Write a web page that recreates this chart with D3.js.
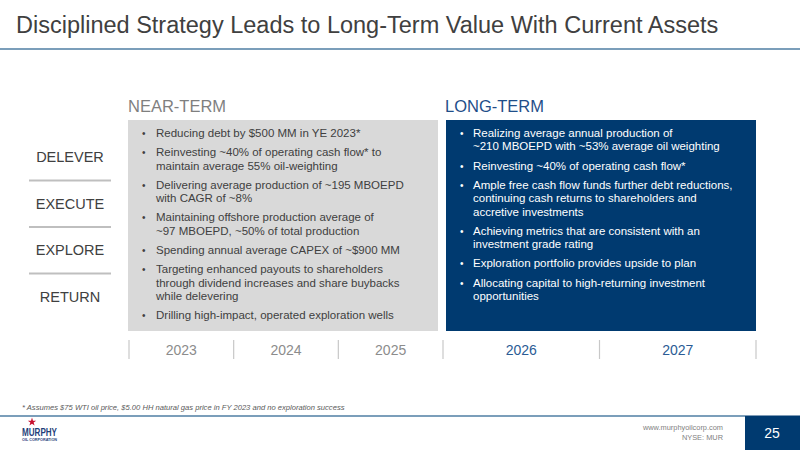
<!DOCTYPE html>
<html><head><meta charset="utf-8">
<script src="https://cdn.jsdelivr.net/npm/d3@7"></script>
<style>html,body{margin:0;padding:0;background:#fff;}svg{display:block;font-family:"Liberation Sans",Arial,sans-serif;}</style>
</head><body>
<script>
const title = "Disciplined Strategy Leads to Long-Term Value With Current Assets";
const pillars = ["DELEVER", "EXECUTE", "EXPLORE", "RETURN"];
const nearYears = ["2023", "2024", "2025"];
const longYears = ["2026", "2027"];
const phaseLabels = ["NEAR-TERM", "LONG-TERM"];
const nearBullets = [
  ["Reducing debt by $500 MM in YE 2023*"],
  ["Reinvesting ~40% of operating cash flow* to", "maintain average 55% oil-weighting"],
  ["Delivering average production of ~195 MBOEPD", "with CAGR of ~8%"],
  ["Maintaining offshore production average of", "~97 MBOEPD, ~50% of total production"],
  ["Spending annual average CAPEX of ~$900 MM"],
  ["Targeting enhanced payouts to shareholders", "through dividend increases and share buybacks", "while delevering"],
  ["Drilling high-impact, operated exploration wells"]
];
const longBullets = [
  ["Realizing average annual production of", "~210 MBOEPD with ~53% average oil weighting"],
  ["Reinvesting ~40% of operating cash flow*"],
  ["Ample free cash flow funds further debt reductions,", "continuing cash returns to shareholders and", "accretive investments"],
  ["Achieving metrics that are consistent with an", "investment grade rating"],
  ["Exploration portfolio provides upside to plan"],
  ["Allocating capital to high-returning investment", "opportunities"]
];
const footnote = "* Assumes $75 WTI oil price, $5.00 HH natural gas price in FY 2023 and no exploration success";
const footerLines = ["www.murphyoilcorp.com", "NYSE: MUR"];
const pageNumber = "25";

const W = 800, H = 450;
const navy = "#003a70", steel = "#4f7ea3", darkText = "#404040";
const svg = d3.select("body").append("svg").attr("width", W).attr("height", H);

// Title
svg.append("text").attr("x", 16).attr("y", 33).attr("font-size", 23.5).attr("fill", darkText).text(title);
svg.append("line").attr("x1", 0).attr("x2", W).attr("y1", 49).attr("y2", 49).attr("stroke", steel).attr("stroke-width", 1.5);

// Scales
const xNear = d3.scaleBand().domain(nearYears).range([129, 443]);
const xLong = d3.scaleBand().domain(longYears).range([443, 756]);
const yPillar = d3.scaleBand().domain(pillars).range([134, 320]);

// Phase headers
svg.append("text").attr("x", 128).attr("y", 112).attr("font-size", 16.5).attr("fill", "#7f7f7f").text(phaseLabels[0]);
svg.append("text").attr("x", 445).attr("y", 112).attr("font-size", 16.5).attr("fill", "#1f4e89").text(phaseLabels[1]);

// Boxes
svg.append("rect").attr("x", 128).attr("y", 120).attr("width", 310).attr("height", 211).attr("fill", "#d9d9d9");
svg.append("rect").attr("x", 446).attr("y", 120).attr("width", 310).attr("height", 211).attr("fill", navy);

// Pillars
const pg = svg.append("g");
pg.selectAll("text").data(pillars).join("text")
  .attr("x", 70).attr("y", d => yPillar(d) + yPillar.bandwidth()/2 + 5)
  .attr("text-anchor", "middle").attr("font-size", 14.5).attr("fill", darkText).text(d => d);
pg.selectAll("line").data(pillars.slice(1)).join("line")
  .attr("x1", 29).attr("x2", 111).attr("y1", d => yPillar(d)).attr("y2", d => yPillar(d))
  .attr("stroke", "#bfbfbf").attr("stroke-width", 2);

// Bullets
function drawBullets(items, bx, tx, y0, color) {
  const lineH = 13.4, gap = 5.8;
  let y = y0;
  const g = svg.append("g").attr("font-size", 11.5).attr("fill", color);
  items.forEach(lines => {
    g.append("text").attr("x", bx).attr("y", y).text("•").attr("font-size", 10);
    lines.forEach((ln, i) => {
      g.append("text").attr("x", tx).attr("y", y + i * lineH).text(ln);
    });
    y += lines.length * lineH + gap;
  });
}
drawBullets(nearBullets, 142, 156, 137, darkText);
drawBullets(longBullets, 460, 473, 137, "#ffffff");

// Year axis
const yr = svg.append("g");
const tickXs = nearYears.map(d => xNear(d)).concat(longYears.map(d => xLong(d)), [756]);
yr.selectAll("line").data(tickXs).join("line")
  .attr("x1", d => d).attr("x2", d => d).attr("y1", 340).attr("y2", 359)
  .attr("stroke", "#c8c8c8").attr("stroke-width", 1.2);
yr.selectAll("text.n").data(nearYears).join("text").attr("class", "n")
  .attr("x", d => xNear(d) + xNear.bandwidth()/2).attr("y", 355).attr("text-anchor", "middle")
  .attr("font-size", 14).attr("fill", "#8c8c8c").text(d => d);
yr.selectAll("text.l").data(longYears).join("text").attr("class", "l")
  .attr("x", d => xLong(d) + xLong.bandwidth()/2).attr("y", 355).attr("text-anchor", "middle")
  .attr("font-size", 14).attr("fill", "#2b5c95").text(d => d);

// Footnote
svg.append("text").attr("x", 22).attr("y", 410).attr("font-size", 7.6).attr("font-style", "italic").attr("fill", "#595959").text(footnote);

// Footer
svg.append("line").attr("x1", 0).attr("x2", 745).attr("y1", 416).attr("y2", 416).attr("stroke", steel).attr("stroke-width", 1.5);
svg.append("rect").attr("x", 745).attr("y", 415.5).attr("width", 55).attr("height", 35).attr("fill", navy);
svg.append("text").attr("x", 772).attr("y", 438).attr("text-anchor", "middle").attr("font-size", 14).attr("fill", "#fff").text(pageNumber);
svg.selectAll("text.ft").data(footerLines).join("text").attr("class", "ft")
  .attr("x", 723).attr("y", (d, i) => 430 + i * 10).attr("text-anchor", "end")
  .attr("font-size", 7.4).attr("fill", "#7f7f7f").text(d => d);

// Logo
const logo = svg.append("g");
const star = d3.symbol().type(d3.symbolStar).size(22);
logo.append("path").attr("d", star()).attr("transform", "translate(32,422)").attr("fill", "#c8102e");
logo.append("text").attr("x", 22).attr("y", 435.5).attr("font-size", 10.5).attr("font-weight", "bold")
  .attr("textLength", 35).attr("lengthAdjust", "spacingAndGlyphs").attr("fill", "#1f3f7a").text("MURPHY");
logo.append("text").attr("x", 22).attr("y", 441).attr("font-size", 4.2).attr("font-weight", "bold")
  .attr("textLength", 35).attr("lengthAdjust", "spacingAndGlyphs").attr("fill", "#1f3f7a").text("OIL CORPORATION");
</script>
</body></html>
